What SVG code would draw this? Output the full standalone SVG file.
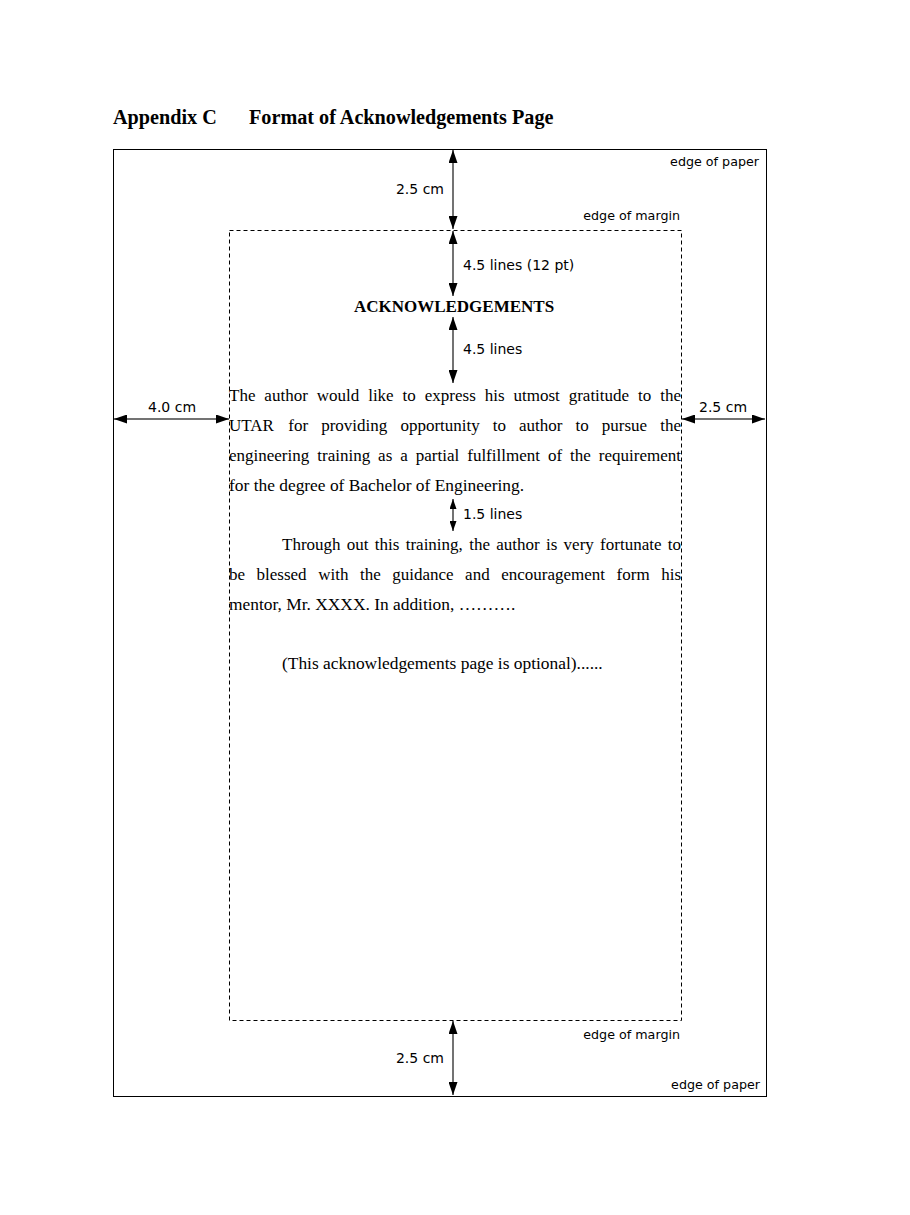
<svg xmlns="http://www.w3.org/2000/svg" width="910" height="1215" viewBox="0 0 910 1215">
<style>
.title{font-family:"Liberation Serif","Times New Roman",serif;font-weight:bold;font-size:20.2px;fill:#000}
.head{font-family:"Liberation Serif","Times New Roman",serif;font-weight:bold;font-size:17px;fill:#000}
.body{font-family:"Liberation Serif","Times New Roman",serif;font-size:17px;fill:#000}
.free{font-size:17.4px}
.lbl{font-family:"DejaVu Sans","Noto Sans",sans-serif;font-size:14px;fill:#000}
.edge{font-family:"DejaVu Sans","Noto Sans",sans-serif;font-size:12.7px;fill:#000}
.dim{stroke:#444;stroke-width:1.5;fill:none;marker-start:url(#ah);marker-end:url(#ah)}
.dims{stroke:#444;stroke-width:1.5;fill:none;marker-start:url(#ahs);marker-end:url(#ahs)}
</style>
<defs>
<marker id="ah" viewBox="0 0 13 9" refX="13" refY="4.5" markerWidth="13" markerHeight="9" markerUnits="userSpaceOnUse" orient="auto-start-reverse"><path d="M0,0 L13,4.5 L0,9 z" fill="#000"/></marker>
<marker id="ahs" viewBox="0 0 10 7" refX="10" refY="3.5" markerWidth="10" markerHeight="7" markerUnits="userSpaceOnUse" orient="auto-start-reverse"><path d="M0,0 L10,3.5 L0,7 z" fill="#000"/></marker>
</defs>
<rect width="910" height="1215" fill="#fff"/>
<g id="title">
<text class="title" x="113" y="124">Appendix C</text>
<text class="title" x="249" y="124">Format of Acknowledgements Page</text>
</g>
<g id="paper">
<rect x="113.5" y="149.5" width="653" height="947" fill="none" stroke="#000" stroke-width="1"/>
<text class="edge" x="759" y="166" text-anchor="end">edge of paper</text>
<text class="edge" x="760" y="1089" text-anchor="end">edge of paper</text>
</g>
<g id="margin">
<rect x="229.5" y="230.5" width="452" height="790" fill="none" stroke="#000" stroke-width="1" stroke-dasharray="4,3"/>
<text class="edge" x="680" y="220" text-anchor="end">edge of margin</text>
<text class="edge" x="680" y="1039" text-anchor="end">edge of margin</text>
</g>
<g id="labels">
<text class="lbl" x="444" y="194" text-anchor="end">2.5 cm</text>
<text class="lbl" x="463" y="270">4.5 lines (12 pt)</text>
<text class="lbl" x="463" y="354">4.5 lines</text>
<text class="lbl" x="172" y="412" text-anchor="middle">4.0 cm</text>
<text class="lbl" x="723" y="412" text-anchor="middle">2.5 cm</text>
<text class="lbl" x="463" y="519">1.5 lines</text>
<text class="lbl" x="444" y="1063" text-anchor="end">2.5 cm</text>
</g>
<g id="heading">
<text class="head" x="454" y="312" text-anchor="middle">ACKNOWLEDGEMENTS</text>
</g>
<g id="paragraph1">
<text class="body" y="401"><tspan x="229">The</tspan> <tspan x="264.37">author</tspan> <tspan x="316.74">would</tspan> <tspan x="368.17">like</tspan> <tspan x="402.61">to</tspan> <tspan x="424.77">express</tspan> <tspan x="484.70">his</tspan> <tspan x="513.47">utmost</tspan> <tspan x="568.70">gratitude</tspan> <tspan x="638.07">to</tspan> <tspan x="660.23">the</tspan></text>
<text class="body" y="431"><tspan x="229">UTAR</tspan> <tspan x="288.33">for</tspan> <tspan x="321.21">providing</tspan> <tspan x="400.39">opportunity</tspan> <tspan x="492.79">to</tspan> <tspan x="519.07">author</tspan> <tspan x="575.57">to</tspan> <tspan x="601.85">pursue</tspan> <tspan x="660.23">the</tspan></text>
<text class="body" y="461"><tspan x="229">engineering</tspan> <tspan x="317.25">training</tspan> <tspan x="378.12">as</tspan> <tspan x="400.27">a</tspan> <tspan x="415.81">partial</tspan> <tspan x="467.23">fulfillment</tspan> <tspan x="547.95">of</tspan> <tspan x="570.10">the</tspan> <tspan x="598.86">requirement</tspan></text>
<text class="body free" x="229" y="491">for the degree of Bachelor of Engineering.</text>
</g>
<g id="paragraph2">
<text class="body" y="550"><tspan x="282">Through</tspan> <tspan x="346.84">out</tspan> <tspan x="374.87">this</tspan> <tspan x="405.73">training,</tspan> <tspan x="469.16">the</tspan> <tspan x="496.24">author</tspan> <tspan x="545.97">is</tspan> <tspan x="563.61">very</tspan> <tspan x="600.11">fortunate</tspan> <tspan x="667.78">to</tspan></text>
<text class="body" y="580"><tspan x="229">be</tspan> <tspan x="256.58">blessed</tspan> <tspan x="318.16">with</tspan> <tspan x="359.92">the</tspan> <tspan x="392.22">guidance</tspan> <tspan x="465.12">and</tspan> <tspan x="501.20">encouragement</tspan> <tspan x="616.58">form</tspan> <tspan x="661.16">his</tspan></text>
<text class="body free" x="229" y="610">mentor, Mr. XXXX. In addition, ……….</text>
</g>
<g id="note">
<text class="body free" x="282" y="669">(This acknowledgements page is optional)......</text>
</g>
<g id="connectors">
<line class="dim" x1="453" y1="150" x2="453" y2="229"/>
<line class="dim" x1="453" y1="231" x2="453" y2="296"/>
<line class="dim" x1="453" y1="317" x2="453" y2="383"/>
<line class="dims" x1="453" y1="499" x2="453" y2="531"/>
<line class="dim" x1="453" y1="1021" x2="453" y2="1095"/>
<line class="dim" x1="114" y1="419" x2="229" y2="419"/>
<line class="dim" x1="682" y1="419" x2="765" y2="419"/>
</g>
</svg>
